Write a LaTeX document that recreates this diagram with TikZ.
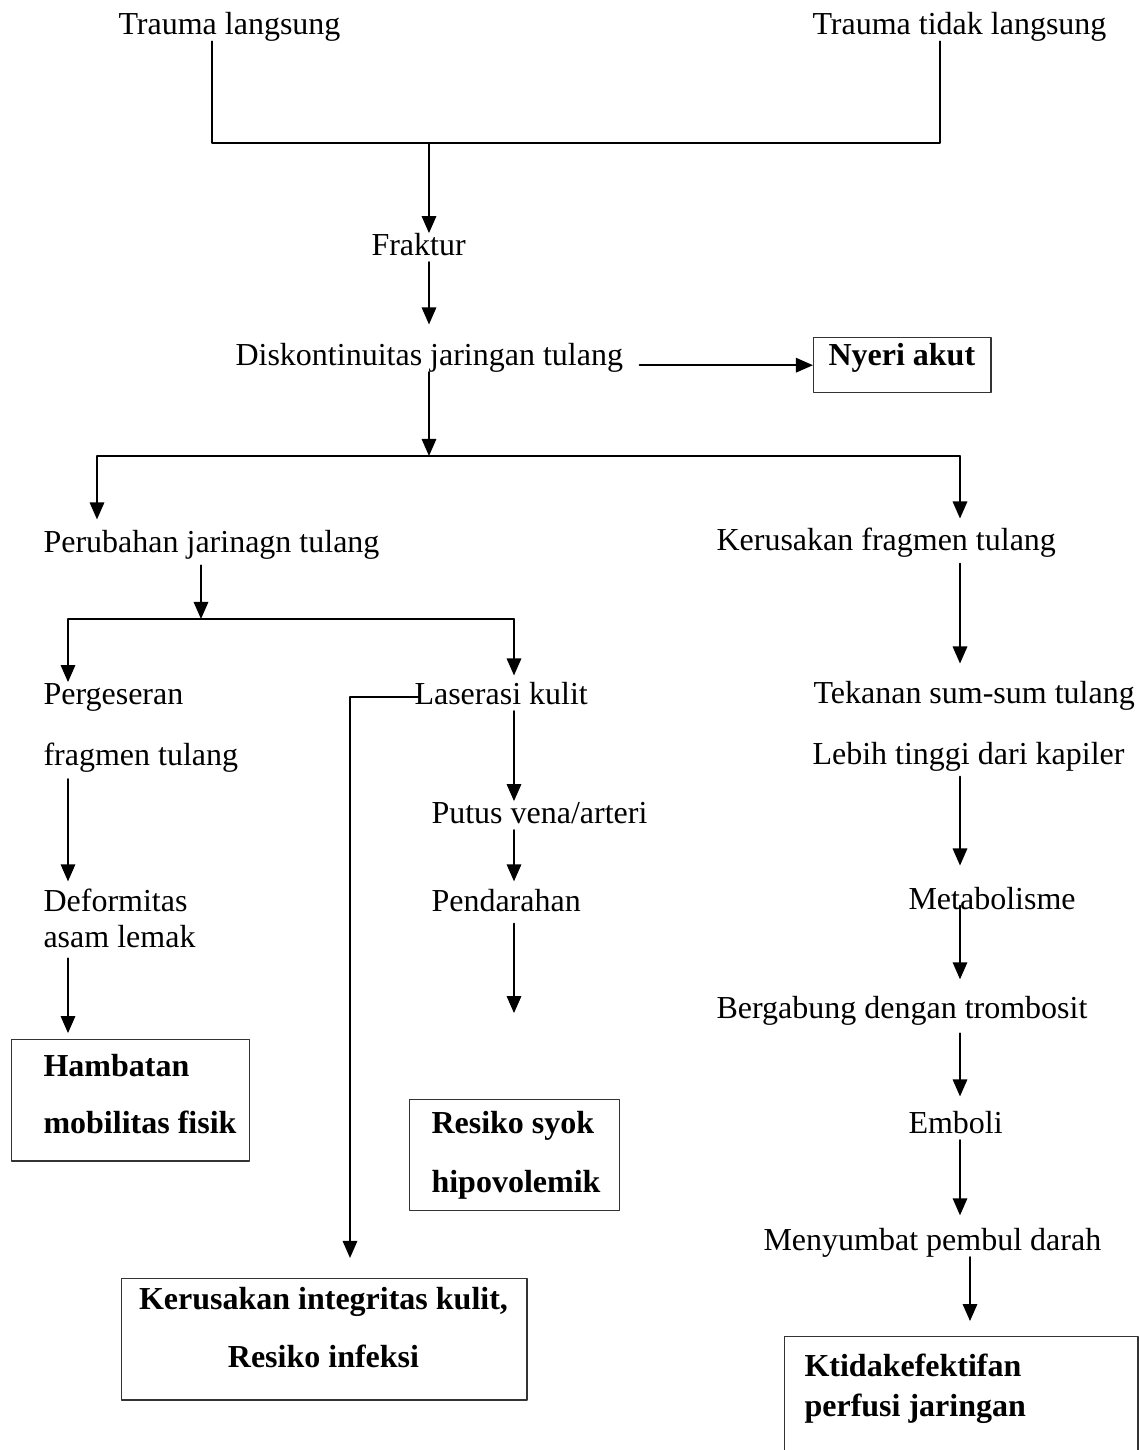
\documentclass[tikz,border=0pt]{standalone}
\usepackage{fontspec}
\setmainfont{Liberation Serif}
\usetikzlibrary{arrows.meta}

\begin{document}
\begin{tikzpicture}
			[line cap=round,line join=round,>={Triangle[length=6.4pt,width=5.4pt]},x=0.375pt,y=-0.375pt,
			lbl/.style={anchor=base west,inner sep=0pt,text height=8pt,text depth=2.5pt,font=\fontsize{12}{14}\selectfont},
			lblb/.style={lbl,font=\fontsize{12}{14}\selectfont\bfseries},
			kotak/.style={draw=black!80,line width=0.55pt,anchor=north west,inner sep=0pt},
			panah/.style={->,line width=0.75pt},
			garis/.style={line width=0.5pt}]
			\useasboundingbox (0,0) rectangle (1139,1450);
			\clip (0,0) rectangle (1139,1450);
			% junctions
			\coordinate (jtr1) at (212,143);
			\coordinate (jtr2) at (940,143);
			\coordinate (jfr) at (429,143);
			\coordinate (jdis) at (429,456);
			\coordinate (jdisL) at (97,456);
			\coordinate (jdisR) at (960,456);
			\coordinate (jpr) at (201,619);
			\coordinate (jprL) at (68,619);
			\coordinate (jprR) at (514,619);
			\coordinate (jlas) at (350,691);
			\coordinate (kolK) at (970,1260);
			% texts
			\node[lbl] (tl) at (118,34) {Trauma langsung};
			\node[lbl] (tr) at (812,34) {Trauma tidak langsung};
			\node[lbl] (fraktur) at (371,255) {Fraktur};
			\node[lbl] (diskon) at (235,365) {Diskontinuitas jaringan tulang};
			\node[lbl] (perubahan) at (43,552) {Perubahan jarinagn tulang};
			\node[lbl] (kerusakan) at (716,550) {Kerusakan fragmen tulang};
			\node[lbl] (pergeseran) at (43,704) {Pergeseran};
			\node[lbl] (fragmen) at (43,765) {fragmen tulang};
			\node[lbl] (laserasi) at (414,704) {Laserasi kulit};
			\node[lbl] (tekanan) at (813,703) {Tekanan sum-sum tulang};
			\node[lbl] (lebih) at (812,764) {Lebih tinggi dari kapiler};
			\node[lbl] (putus) at (431,823) {Putus vena/arteri};
			\node[lbl] (deformitas) at (43,911) {Deformitas};
			\node[lbl] (asam) at (43,947) {asam lemak};
			\node[lbl] (pendarahan) at (431,911) {Pendarahan};
			\node[lbl] (metabolisme) at (908,909) {Metabolisme};
			\node[lbl] (bergabung) at (716,1018) {Bergabung dengan trombosit};
			\node[lbl] (emboli) at (908,1133) {Emboli};
			\node[lbl] (menyumbat) at (763,1250) {Menyumbat pembul darah};
			% boxes
			\node[kotak,minimum width=66.4pt,minimum height=20.6pt] (nyeribox) at (813,337) {};
			\node[lblb] (nyeri) at (828,365) {Nyeri akut};
			\node[kotak,minimum width=89.25pt,minimum height=45.4pt] (hambatanbox) at (11,1039) {};
			\node[lblb] (hambatan1) at (43,1076) {Hambatan};
			\node[lblb] (hambatan2) at (43,1133) {mobilitas fisik};
			\node[kotak,minimum width=78.75pt,minimum height=41.6pt] (syokbox) at (409,1099) {};
			\node[lblb] (syok1) at (431,1133) {Resiko syok};
			\node[lblb] (syok2) at (431,1192) {hipovolemik};
			\node[kotak,minimum width=151.9pt,minimum height=45.4pt] (integritasbox) at (121,1278) {};
			\node[lblb,anchor=base] (integritas1) at (323.5,1309) {Kerusakan integritas kulit,};
			\node[lblb,anchor=base] (integritas2) at (323.5,1367) {Resiko infeksi};
			\node[kotak,minimum width=132.4pt,minimum height=56.25pt] (ktidakbox) at (784,1336) {};
			\node[lblb] (ktidak1) at (804,1376) {Ktidakefektifan};
			\node[lblb] (ktidak2) at (804,1416) {perfusi jaringan};
			% connectors
			\draw[garis] (tl.south -| jtr1) -- (jtr1) -- (jtr2) -- (tr.south -| jtr2);
			\draw[panah] (jfr) -- (fraktur.north -| jfr);
			\draw[panah,shorten >=7pt] (fraktur.south -| jfr) -- (diskon.north -| jfr);
			\draw[panah,shorten <=6pt] (diskon.east |- nyeribox.west) -- (nyeribox.west);
			\draw[panah] (diskon.south -| jfr) -- (jdis);
			\draw[garis] (jdisL) -- (jdisR);
			\draw[panah,shorten >=4pt] (jdisL) -- (perubahan.north -| jdisL);
			\draw[panah,shorten >=3.6pt] (jdisR) -- (kerusakan.north -| jdisR);
			\draw[panah,shorten <=2.3pt] (perubahan.south -| jpr) -- (jpr);
			\draw[garis] (jprL) -- (jprR);
			\draw[panah] (jprL) -- (pergeseran.north -| jprL);
			\draw[panah,shorten >=2.5pt] (jprR) -- (laserasi.north -| jprR);
			\draw[panah,shorten <=-1.9pt,shorten >=7.5pt] (laserasi.west) -- (laserasi.west -| jlas) -- (integritasbox.north -| jlas);
			\draw[panah,shorten <=2.6pt,shorten >=2.9pt] (fragmen.south -| jprL) -- (deformitas.north -| jprL);
			\draw[panah,shorten <=1.6pt,shorten >=2.2pt] (asam.south -| jprL) -- (hambatanbox.north -| jprL);
			\draw[panah] (laserasi.south -| jprR) -- (putus.north -| jprR);
			\draw[panah,shorten >=2.9pt] (putus.south -| jprR) -- (pendarahan.north -| jprR);
			\draw[panah,shorten <=2pt,shorten >=32.2pt] (pendarahan.south -| jprR) -- (syokbox.north -| jprR);
			\draw[panah,shorten <=2.4pt,shorten >=6.6pt] (kerusakan.south -| jdisR) -- (tekanan.north -| jdisR);
			\draw[panah,shorten <=2pt,shorten >=8.1pt] (lebih.south -| jdisR) -- (metabolisme.north -| jdisR);
			\draw[panah,shorten <=-4pt,shorten >=6.3pt] (metabolisme.south -| jdisR) -- (bergabung.north -| jdisR);
			\draw[panah,shorten <=3.1pt,shorten >=5.5pt] (bergabung.south -| jdisR) -- (emboli.north -| jdisR);
			\draw[panah,shorten >=4.8pt] (emboli.south -| jdisR) -- (menyumbat.north -| jdisR);
			\draw[panah,shorten >=5.6pt] (menyumbat.south -| kolK) -- (ktidakbox.north -| kolK);
		\end{tikzpicture}
\end{document}
